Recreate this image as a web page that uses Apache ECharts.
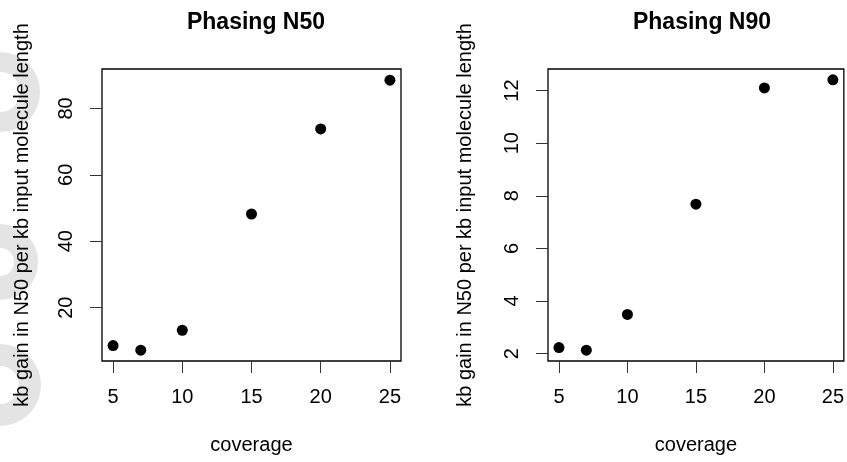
<!DOCTYPE html>
<html>
<head>
<meta charset="utf-8">
<script src="https://cdn.jsdelivr.net/npm/echarts@6/dist/echarts.min.js"></script>
<style>html,body{margin:0;padding:0;background:#fff}#c{width:847px;height:462px}</style>
</head>
<body>
<div id="c"></div>
<script>
const coverage = [5, 7, 10, 15, 20, 25];
const n50Gain = [8.6, 7.2, 13.2, 48.2, 73.8, 88.5];
const n90Gain = [2.23, 2.13, 3.49, 7.68, 12.1, 12.41];
const xTicks = [5, 10, 15, 20, 25];
const yTicksN50 = [20, 40, 60, 80];
const yTicksN90 = [2, 4, 6, 8, 10, 12];
const titles = ['Phasing N50', 'Phasing N90'];
const yName = 'kb gain in N50 per kb input molecule length';
const xName = 'coverage';

const FONT = '"Liberation Sans", Arial, Helvetica, sans-serif';
const FS = 20;
const chart = echarts.init(document.getElementById('c'), null, {renderer: 'canvas'});

function xAxis(idx) {
  return {
    type: 'value', gridIndex: idx, min: 4.2, max: 25.8,
    axisLine: {show: false},
    splitLine: {show: false},
    axisTick: {show: true, customValues: xTicks, length: 12, lineStyle: {color: '#333', width: 1}},
    axisLabel: {customValues: xTicks, fontSize: FS, color: '#000', fontFamily: FONT, margin: 26},
    name: xName, nameLocation: 'middle', nameGap: 74,
    nameTextStyle: {fontSize: FS, color: '#000', fontFamily: FONT}
  };
}
function yAxis(idx, min, max, ticks, gap) {
  return {
    type: 'value', gridIndex: idx, min: min, max: max,
    axisLine: {show: false},
    splitLine: {show: false},
    axisTick: {show: true, customValues: ticks, length: 12, lineStyle: {color: '#333', width: 1}},
    axisLabel: {customValues: ticks, fontSize: FS, color: '#000', fontFamily: FONT, rotate: 90, margin: 26},
    name: yName, nameLocation: 'middle', nameGap: gap,
    nameTextStyle: {fontSize: FS, color: '#000', fontFamily: FONT}
  };
}

const wm = '#e4e4e4';
chart.setOption({
  animation: false,
  backgroundColor: '#fff',
  graphic: [
    {type: 'arc', z: -10, silent: true, shape: {cx: 0, cy: 92, r: 30, startAngle: -Math.PI * 0.5, endAngle: Math.PI * 0.5}, style: {stroke: wm, lineWidth: 20, fill: null}},
    {type: 'arc', z: -10, silent: true, shape: {cx: 0, cy: 262, r: 26, startAngle: -Math.PI * 0.5, endAngle: Math.PI * 0.5}, style: {stroke: wm, lineWidth: 24, fill: null}},
    {type: 'arc', z: -10, silent: true, shape: {cx: 0, cy: 385, r: 30, startAngle: -Math.PI * 0.5, endAngle: Math.PI * 0.5}, style: {stroke: wm, lineWidth: 22, fill: null}}
  ],
  title: [
    {text: titles[0], left: 251, top: 6, textAlign: 'center', textStyle: {fontSize: 23, fontWeight: 'bold', color: '#000', fontFamily: FONT}},
    {text: titles[1], left: 697, top: 6, textAlign: 'center', textStyle: {fontSize: 23, fontWeight: 'bold', color: '#000', fontFamily: FONT}}
  ],
  grid: [
    {left: 102, top: 69, width: 299, height: 292, show: true, borderColor: '#000', borderWidth: 1.3, backgroundColor: 'transparent'},
    {left: 548, top: 69, width: 298, height: 292, show: true, borderColor: '#000', borderWidth: 1.3, backgroundColor: 'transparent'}
  ],
  xAxis: [xAxis(0), xAxis(1)],
  yAxis: [yAxis(0, 3.94, 91.86, yTicksN50, 70), yAxis(1, 1.72, 12.82, yTicksN90, 73)],
  series: [
    {type: 'scatter', xAxisIndex: 0, yAxisIndex: 0, symbolSize: 11, itemStyle: {color: '#000', opacity: 1},
     data: coverage.map((c, i) => [c, n50Gain[i]])},
    {type: 'scatter', xAxisIndex: 1, yAxisIndex: 1, symbolSize: 11, itemStyle: {color: '#000', opacity: 1},
     data: coverage.map((c, i) => [c, n90Gain[i]])}
  ]
});
</script>
</body>
</html>
